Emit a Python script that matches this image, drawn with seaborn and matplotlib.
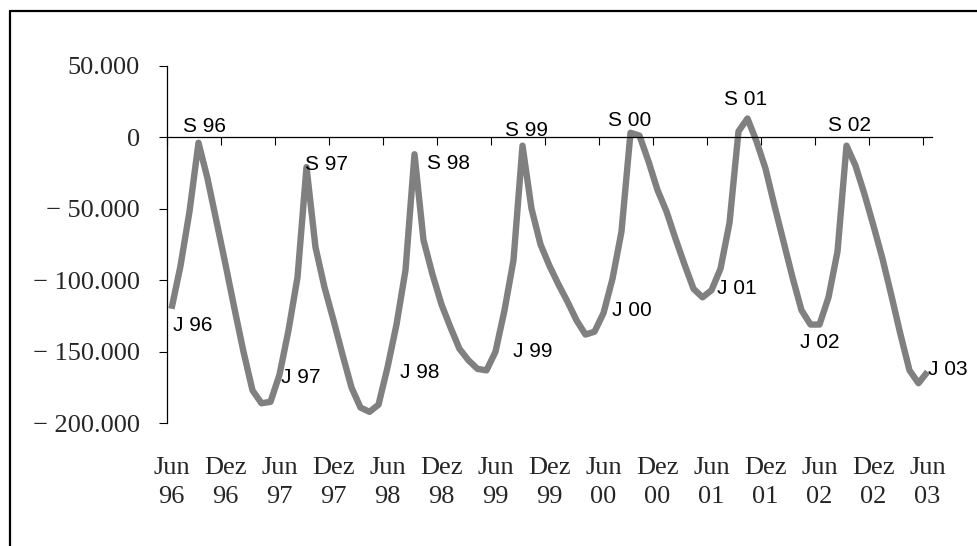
import numpy as np
import pandas as pd
import matplotlib
matplotlib.use("Agg")
import matplotlib.pyplot as plt
from matplotlib.lines import Line2D
from matplotlib.ticker import FuncFormatter
import seaborn as sns

# Monthly values, Jun 96 .. Jun 03 (85 months)
values = [
    -120000, -90000, -52000, -4000, -29000, -59000, -89000, -120000, -150000, -177000,
    -186000, -185000, -166000, -135000, -98000, -21000, -77000, -105000, -128000, -152000,
    -175000, -189000, -192000, -187000, -161000, -131000, -93000, -12000, -72000, -96000,
    -117000, -133000, -148000, -156000, -162000, -163000, -150000, -121000, -86000, -6000,
    -50000, -75000, -90000, -103000, -115000, -128000, -138000, -136000, -123000, -99000,
    -66000, 3000, 1000, -17000, -37000, -52000, -71000, -89000, -106000, -112000,
    -107000, -92000, -60000, 4000, 13000, -3000, -22000, -48000, -73000, -98000,
    -121000, -131000, -131000, -112000, -80000, -6000, -20000, -40000, -62000, -85000,
    -111000, -138000, -163000, -172000, -164000,
]
month_idx = list(range(len(values)))

# x axis labels every 6 months
tick_pos = [0, 6, 12, 18, 24, 30, 36, 42, 48, 54, 60, 66, 72, 78, 84]
tick_labels = ["Jun\n96", "Dez\n96", "Jun\n97", "Dez\n97", "Jun\n98", "Dez\n98",
               "Jun\n99", "Dez\n99", "Jun\n00", "Dez\n00", "Jun\n01", "Dez\n01",
               "Jun\n02", "Dez\n02", "Jun\n03"]

# data labels (June / September points)
label_idx = [0, 3, 12, 15, 24, 27, 36, 39, 48, 51, 60, 63, 72, 75, 84]
label_text = ["J 96", "S 96", "J 97", "S 97", "J 98", "S 98", "J 99", "S 99",
              "J 00", "S 00", "J 01", "S 01", "J 02", "S 02", "J 03"]
# offsets of label centres from the points, in pixels
label_offsets = [(21.5, -17), (6, 16), (21.5, -3), (20.5, 3), (32.5, -5), (34.5, -9),
                 (37.5, 0), (4.5, 15), (28.5, 3), (-0.5, 12), (25.5, 2), (7.5, 32),
                 (0.5, -18), (3.5, 20), (20.5, 2)]

df = pd.DataFrame({"month": month_idx, "value": values})

sns.set_style("white")
plt.rcParams["font.family"] = ["Liberation Serif", "DejaVu Serif"]


def de_fmt(v, p):
    s = f"{abs(v):,.0f}".replace(",", ".")
    return "\u2212 " + s if v < 0 else s


fig = plt.figure(figsize=(9.78, 5.46), dpi=100)
ax = fig.add_axes([167 / 978, 1 - 423.3 / 546, (932 - 167) / 978, (423.3 - 65.5) / 546])

sns.lineplot(data=df, x="month", y="value", ax=ax, color="#808080", linewidth=4.6,
             solid_joinstyle="round", solid_capstyle="butt")

ax.set_xlim(-0.5, 84.5)
ax.set_ylim(-200000, 50000)
ax.set_xlabel("")
ax.set_ylabel("")

# y axis
ax.set_yticks(np.arange(-200000, 50001, 50000))
ax.yaxis.set_major_formatter(FuncFormatter(de_fmt))
ax.tick_params(axis="y", direction="out", length=5.5, width=0.8, color="black",
               pad=14, labelsize=19, left=True)

# x axis line at zero with boundary ticks
for s in ["top", "right"]:
    ax.spines[s].set_visible(False)
ax.spines["bottom"].set_position(("data", 0))
for s in ["bottom", "left"]:
    ax.spines[s].set_color("black")
    ax.spines[s].set_linewidth(0.9)
ax.set_xticks(np.arange(-0.5, 84, 6))
ax.set_xticklabels([])
ax.tick_params(axis="x", direction="out", length=6, width=0.8, color="black", bottom=True)

# category labels at the bottom
sec = ax.secondary_xaxis("bottom")
sec.set_xticks(tick_pos, tick_labels)
sec.spines["bottom"].set_visible(False)
sec.tick_params(length=0, pad=24, labelsize=19)
for t in sec.get_xticklabels():
    t.set_linespacing(1.45)

for i, txt, (dx, dy) in zip(label_idx, label_text, label_offsets):
    ax.annotate(txt, (month_idx[i], values[i]), xytext=(dx, dy),
                textcoords="offset pixels", ha="center", va="center",
                fontsize=15, family=["Liberation Sans", "DejaVu Sans"], color="black")

# chart area border (left and top edges visible)
fig.add_artist(Line2D([9.5 / 978, 9.5 / 978], [0, 1 - 10.5 / 546], color="black",
                      linewidth=1.6, transform=fig.transFigure))
fig.add_artist(Line2D([9.5 / 978, 1], [1 - 10.5 / 546, 1 - 10.5 / 546], color="black",
                      linewidth=1.6, transform=fig.transFigure))

fig.savefig("out.png", dpi=100)
